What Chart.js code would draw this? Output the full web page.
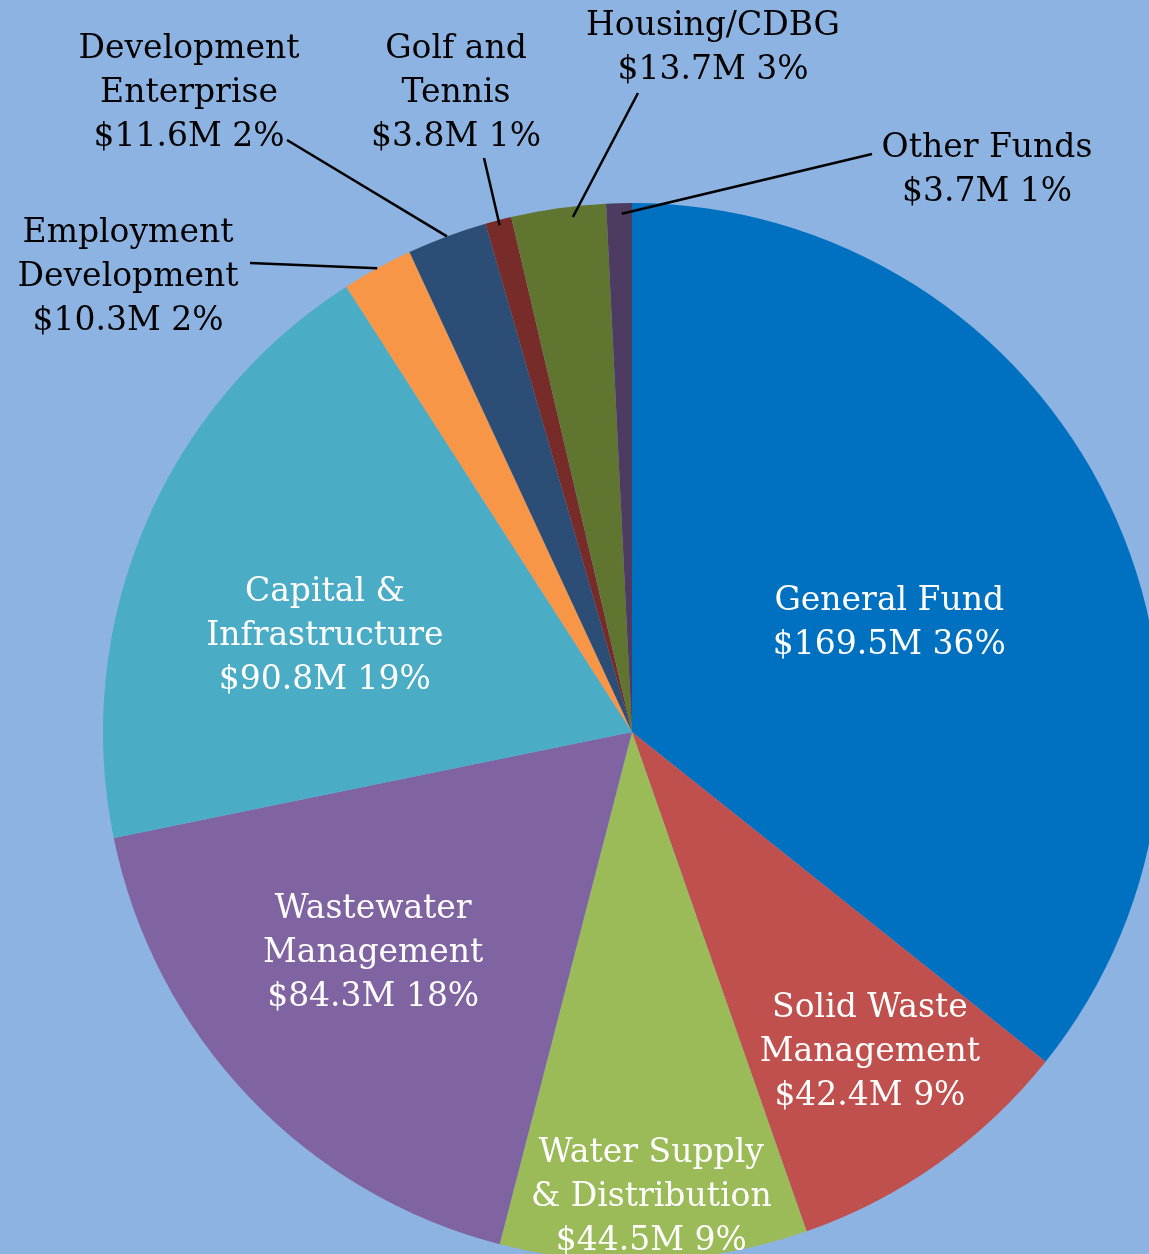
<!DOCTYPE html>
<html>
<head>
<meta charset="utf-8">
<script src="https://cdn.jsdelivr.net/npm/chart.js@4/dist/chart.umd.min.js"></script>
<style>
  html, body { margin: 0; padding: 0; background: #8DB3E2; }
  #wrap { position: relative; width: 1149px; height: 1254px; overflow: hidden; background: #8DB3E2; }
  #wrap canvas { position: absolute; left: 0; top: 0; }
</style>
</head>
<body>
<div id="wrap"><canvas id="pie" width="1264" height="1464"></canvas></div>
<script>
// fund data, clockwise from 12 o'clock
const funds = ['General Fund', 'Solid Waste Management', 'Water Supply & Distribution', 'Wastewater Management',
  'Capital & Infrastructure', 'Employment Development', 'Development Enterprise', 'Golf and Tennis',
  'Housing/CDBG', 'Other Funds'];
const amounts = [169.5, 42.4, 44.5, 84.3, 90.8, 10.3, 11.6, 3.8, 13.7, 3.7];
const percents = [36, 9, 9, 18, 19, 2, 2, 1, 3, 1];
const nameLines = [['General Fund'], ['Solid Waste', 'Management'], ['Water Supply', '& Distribution'],
  ['Wastewater', 'Management'], ['Capital &', 'Infrastructure'], ['Employment', 'Development'],
  ['Development', 'Enterprise'], ['Golf and', 'Tennis'], ['Housing/CDBG'], ['Other Funds']];
const colors = ['#0070C0', '#C0504D', '#9BBB59', '#8064A2', '#4BACC6', '#F79646', '#2C4D75', '#772C2A', '#5F7530', '#4D3B62'];

// label placement: inside labels sit along the slice, outside ones get a leader line
const labelLayout = [
  { inside: true, r: 0.53, turn: 2.3 },
  { inside: true, r: 0.75, turn: -1.5 },
  { inside: true, r: 0.875, turn: 0 },
  { inside: true, r: 0.64, turn: 3.4 },
  { inside: true, r: 0.61, turn: -5 },
  { x: 128, y: 233, lx: 250, ly: 263, frac: 0.5, rr: 1.0 },
  { x: 189, y: 49, lx: 287, ly: 140, frac: 0.5, rr: 1.0 },
  { x: 456, y: 49, lx: 484, ly: 158, frac: 0.5, rr: 0.99 },
  { x: 713, y: 26, lx: 638, ly: 93, frac: 0.64, rr: 0.98 },
  { x: 987, y: 148, lx: 872, ly: 154, frac: 0.6, rr: 0.98 }
];

const FONT = '33px "DejaVu Serif"';
const LINE_H = 44;

const labelPlugin = {
  id: 'fundLabels',
  afterDatasetsDraw(chart) {
    const ctx = chart.ctx;
    const arcs = chart.getDatasetMeta(0).data;
    ctx.save();
    ctx.font = FONT;
    ctx.textAlign = 'center';
    ctx.textBaseline = 'middle';
    arcs.forEach((arc, i) => {
      const p = arc.getProps(['x', 'y', 'startAngle', 'endAngle', 'outerRadius'], true);
      const lay = labelLayout[i];
      const lines = nameLines[i].concat(['$' + amounts[i].toFixed(1) + 'M ' + percents[i] + '%']);
      let cx, cy;
      if (lay.inside) {
        const a = (p.startAngle + p.endAngle) / 2 + lay.turn * Math.PI / 180;
        const r = p.outerRadius * lay.r;
        cx = p.x + r * Math.cos(a);
        cy = p.y + r * Math.sin(a) - (lines.length - 1) * LINE_H / 2 + 3;
        ctx.fillStyle = '#ffffff';
      } else {
        const a = p.startAngle + (p.endAngle - p.startAngle) * lay.frac;
        const ex = p.x + p.outerRadius * lay.rr * Math.cos(a);
        const ey = p.y + p.outerRadius * lay.rr * Math.sin(a);
        ctx.strokeStyle = '#000000';
        ctx.lineWidth = 2.5;
        ctx.beginPath();
        ctx.moveTo(lay.lx, lay.ly);
        ctx.lineTo(ex, ey);
        ctx.stroke();
        cx = lay.x;
        cy = lay.y;
        ctx.fillStyle = '#000000';
      }
      lines.forEach((t, k) => ctx.fillText(t, cx, cy + k * LINE_H));
    });
    ctx.restore();
  }
};

new Chart(document.getElementById('pie'), {
  type: 'pie',
  data: {
    labels: funds,
    datasets: [{
      data: amounts,
      backgroundColor: colors,
      borderWidth: 0,
      radius: 529
    }]
  },
  options: {
    responsive: false,
    animation: false,
    layout: { padding: 0 },
    plugins: {
      legend: { display: false },
      tooltip: { enabled: false }
    }
  },
  plugins: [labelPlugin]
});
</script>
</body>
</html>
